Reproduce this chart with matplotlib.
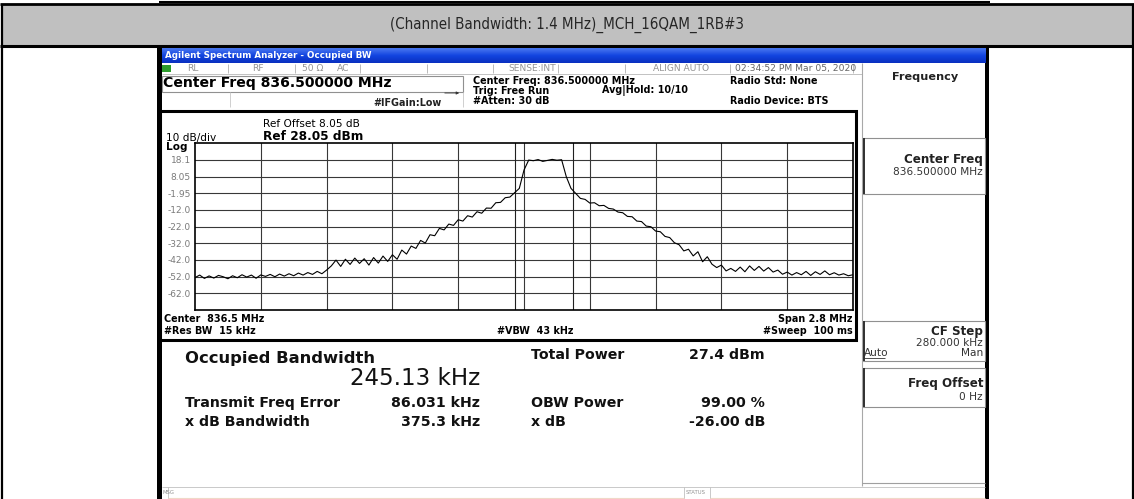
import numpy as np
import matplotlib
matplotlib.use("Agg")
import matplotlib.pyplot as plt
from matplotlib.patches import Rectangle
from matplotlib import font_manager as fm

# ---------------- data ----------------
header_title = "(Channel Bandwidth: 1.4 MHz)_MCH_16QAM_1RB#3"
center_mhz = 836.5
span_mhz = 2.8
ref_dbm = 28.05
db_per_div = 10
ytick_labels = ["18.1", "8.05", "-1.95", "-12.0", "-22.0", "-32.0", "-42.0", "-52.0", "-62.0"]
obw_khz = 245.13
freq_err_khz = 86.031

sweep_freq = np.linspace(835.10, 837.90, 141)
trace_dbm = [
    -52.5, -51.0, -53.0, -51.5, -52.8, -51.2, -52.0, -53.2, -51.4, -52.6,
    -50.8, -52.2, -51.0, -52.9, -50.9, -51.8, -50.6, -52.0, -50.4, -51.6,
    -50.2, -51.4, -49.8, -51.0, -49.5, -50.6, -48.8, -50.2, -48.0, -45.5,
    -42.0, -45.8, -41.5, -44.6, -40.8, -44.0, -41.2, -45.0, -40.5, -43.8,
    -39.6, -42.8, -38.8, -41.5, -36.0, -38.4, -33.6, -35.0, -30.2, -31.8,
    -26.8, -27.4, -23.0, -23.9, -20.4, -21.2, -17.8, -18.6, -15.4, -16.2,
    -13.0, -13.9, -10.8, -10.9, -7.6, -7.4, -4.6, -4.2, -1.6, 1.0,
    12.0, 18.0, 17.6, 18.3, 17.2, 17.8, 18.4, 17.9, 18.2, 8.0,
    1.0, -2.0, -5.0, -5.6, -7.8, -7.6, -9.4, -9.2, -11.0, -11.4,
    -13.2, -13.6, -15.8, -16.0, -18.6, -18.9, -21.6, -22.0, -24.6, -25.0,
    -27.8, -28.5, -31.6, -32.8, -36.5, -35.5, -39.5, -37.0, -43.0, -40.0,
    -44.5, -46.5, -45.0, -48.5, -47.0, -48.8, -46.2, -49.0, -45.5, -48.2,
    -45.8, -48.6, -46.5, -49.2, -48.0, -50.5, -49.2, -51.0, -49.5, -50.8,
    -48.8, -51.2, -49.0, -50.6, -48.5, -50.8, -49.6, -51.0, -50.2, -51.4,
    -50.8,
]

result_rows = [
    ("Transmit Freq Error", "86.031 kHz", "OBW Power", "99.00 %"),
    ("x dB Bandwidth", "375.3 kHz", "x dB", "-26.00 dB"),
]

# ---------------- figure ----------------
W, H = 1134, 499
fig = plt.figure(figsize=(W / 100, H / 100), dpi=100)
bg = fig.add_axes([0, 0, 1, 1])
bg.set_xlim(0, W)
bg.set_ylim(H, 0)
bg.axis("off")
renderer = fig.canvas.get_renderer()

SCR = ["DejaVu Sans"]          # screenshot font (wide, like the stretched capture)
HDR = ["Liberation Sans", "DejaVu Sans"]

# narrow font for the header if one is installed
narrow_fp = None
for f in fm.fontManager.ttflist:
    if ("Narrow" in f.name or str(f.stretch) in ("condensed", "semi-condensed", "75", "87.5")) \
            and f.style == "normal" and f.weight in (400, "normal", "regular"):
        narrow_fp = fm.FontProperties(fname=f.fname)
        break


def hline(y, x0, x1, c="black", lw=1.0):
    bg.plot([x0, x1], [y, y], color=c, lw=lw, solid_capstyle="butt")


def vline(x, y0, y1, c="black", lw=1.0):
    bg.plot([x, x], [y0, y1], color=c, lw=lw, solid_capstyle="butt")


def fit(s, width, bold=False, fam=SCR, fp=None):
    if fp is not None:
        p = fp.copy()
        p.set_size(10)
        t = bg.text(0, 0, s, fontproperties=p)
    else:
        t = bg.text(0, 0, s, fontsize=10, fontweight="bold" if bold else "normal", family=fam)
    w = t.get_window_extent(renderer).width
    t.remove()
    return 10 * width / w


def txt(x, y, s, size, bold=False, ha="left", color="black", fam=SCR, fp=None, **kw):
    if fp is not None:
        p = fp.copy()
        p.set_size(size)
        return bg.text(x, y, s, fontproperties=p, ha=ha, va="center", color=color, **kw)
    return bg.text(x, y, s, fontsize=size, fontweight="bold" if bold else "normal",
                   ha=ha, va="center", color=color, family=fam, **kw)


# ---- table frame ----
hline(1.5, 159, 990, lw=1.5)
bg.add_patch(Rectangle((1.5, 4.5), W - 3, 41, facecolor="#c0c0c0", edgecolor="none"))
hline(4.2, 0, W, lw=2)
hline(45.5, 0, W, lw=2.2)
vline(1.5, 3.5, H, lw=1.6)
vline(W - 1.5, 3.5, H, lw=1.6)
if narrow_fp is not None:
    sz = fit(header_title, 353, fp=narrow_fp)
    txt(567, 24.5, header_title, sz, ha="center", color="#262626", fp=narrow_fp)
else:
    sz = fit(header_title, 353, fam=HDR)
    txt(567, 24.5, header_title, sz, ha="center", color="#262626", fam=HDR)

# ---- screenshot outer ----
bg.add_patch(Rectangle((159, 47), 829, 452, facecolor="white", edgecolor="none"))
bg.add_patch(Rectangle((156.5, 46), 5, 453, facecolor="black", edgecolor="none"))
bg.add_patch(Rectangle((985, 46), 4, 453, facecolor="black", edgecolor="none"))

grad = np.linspace(0, 1, 30).reshape(-1, 1)
cmap = matplotlib.colors.LinearSegmentedColormap.from_list("tb", ["#4a78f0", "#1244e0", "#0a30c0"])
bg.imshow(grad, extent=[161.5, 985, 63, 48], cmap=cmap, aspect="auto", zorder=1)
bg.set_xlim(0, W)
bg.set_ylim(H, 0)
s_title = "Agilent Spectrum Analyzer - Occupied BW"
txt(165, 55.5, s_title, fit(s_title, 206, bold=True), bold=True, color="white")

# ---- status row ----
bg.add_patch(Rectangle((162, 64.5), 9, 7, facecolor="#2c9c2c", edgecolor="none"))
for xd in [228, 295, 360, 427, 493, 558, 625, 730, 853]:
    vline(xd, 64, 73, c="#b0b0b0", lw=0.6)
hline(73.5, 161.5, 862, c="#b8b8b8", lw=0.6)
stat_c = "#949494"
ssz = fit("SENSE:INT", 48)
txt(187, 68.5, "RL", ssz, color=stat_c)
txt(252, 68.5, "RF", ssz, color=stat_c)
txt(302, 68.5, "50 \u03a9", ssz, color=stat_c)
txt(337, 68.5, "AC", ssz, color=stat_c)
txt(532, 68.5, "SENSE:INT", ssz, ha="center", color=stat_c)
txt(681, 68.5, "ALIGN AUTO", ssz, ha="center", color=stat_c)
txt(735, 68.5, "02:34:52 PM Mar 05, 2020", ssz, color="#666666")

# ---- measurement setup info ----
bg.add_patch(Rectangle((161.5, 75.5), 301.5, 16, facecolor="none", edgecolor="#909090", lw=0.8))
vline(230, 91.5, 107, c="#c8c8c8", lw=0.6)
vline(463, 91.5, 107, c="#c8c8c8", lw=0.6)
s_cf = "Center Freq 836.500000 MHz"
txt(163, 83, s_cf, fit(s_cf, 230, bold=True), bold=True)
isz = fit("Center Freq: 836.500000 MHz", 162, bold=True)
txt(373, 102.5, "#IFGain:Low", isz, bold=True, color="#222222")
bg.annotate("", xy=(462, 93), xytext=(442, 93),
            arrowprops=dict(arrowstyle="-|>", lw=0.6, color="#333333", mutation_scale=4))
txt(473, 80.5, "Center Freq: 836.500000 MHz", isz, bold=True)
txt(473, 90.5, "Trig: Free Run", isz, bold=True)
txt(473, 100.5, "#Atten: 30 dB", isz, bold=True)
txt(602, 90.5, "Avg|Hold: 10/10", isz, bold=True)
txt(730, 80.5, "Radio Std: None", isz, bold=True)
txt(730, 101, "Radio Device: BTS", isz, bold=True)

# ---- plot panel ----
bg.add_patch(Rectangle((160, 110.5), 695.5, 229.5, facecolor="none", edgecolor="black", lw=2.2))
s_ro = "Ref Offset 8.05 dB"
txt(263, 124, s_ro, fit(s_ro, 96))
s_rl = "Ref 28.05 dBm"
txt(263, 137, s_rl, fit(s_rl, 100, bold=True), bold=True)
dsz = fit("10 dB/div", 50)
txt(166, 137.5, "10 dB/div", dsz)
txt(166, 147, "Log", dsz, bold=True)

gx0, gy0, gx1, gy1 = 195, 143.3, 853, 310
ax = fig.add_axes([gx0 / W, 1 - gy1 / H, (gx1 - gx0) / W, (gy1 - gy0) / H])
fstart = center_mhz - span_mhz / 2
fstop = center_mhz + span_mhz / 2
ybot = ref_dbm - 10 * db_per_div
ax.set_xlim(fstart, fstop)
ax.set_ylim(ybot, ref_dbm)
ax.set_facecolor("white")
for k in range(1, 10):
    ax.axvline(fstart + k * span_mhz / 10, color="#383838", lw=0.8)
    ax.axhline(ref_dbm - k * db_per_div, color="#383838", lw=0.8)
obw_c = center_mhz + freq_err_khz / 1000
for xo in (obw_c - obw_khz / 2000, obw_c + obw_khz / 2000):
    ax.axvline(xo, color="#202020", lw=0.8)
ax.plot(sweep_freq, trace_dbm, color="black", lw=0.8)
ax.set_xticks([])
ax.set_yticks([ref_dbm - k * db_per_div for k in range(1, 10)])
ax.set_yticklabels(ytick_labels, fontsize=fit("-12.0", 23), color="#7a7a7a", family=SCR)
ax.tick_params(axis="y", length=0, pad=3)
for sp in ax.spines.values():
    sp.set_color("black")
    sp.set_linewidth(1.2)

bsz = fit("Span 2.8 MHz", 74, bold=True)
txt(164, 318.5, "Center  836.5 MHz", bsz, bold=True)
txt(164, 331, "#Res BW  15 kHz", bsz, bold=True)
txt(497, 331, "#VBW  43 kHz", bsz, bold=True)
txt(853, 318.5, "Span 2.8 MHz", bsz, bold=True, ha="right")
txt(853, 331, "#Sweep  100 ms", bsz, bold=True, ha="right")

# ---- results ----
s_ob = "Occupied Bandwidth"
txt(185, 358.5, s_ob, fit(s_ob, 190, bold=True), bold=True, color="#111111")
s_bw = f"{obw_khz:.2f} kHz"
txt(480, 378.5, s_bw, fit(s_bw, 130), ha="right", color="#111111")
rsz = fit("Transmit Freq Error", 155, bold=True)
txt(531, 355, "Total Power", rsz, bold=True, color="#111111")
txt(765, 355, "27.4 dBm", rsz, bold=True, ha="right", color="#111111")
row_y = [403, 422]
for (l1, v1, l2, v2), yy in zip(result_rows, row_y):
    txt(185, yy, l1, rsz, bold=True, color="#111111")
    txt(480, yy, v1, rsz, bold=True, ha="right", color="#111111")
    txt(531, yy, l2, rsz, bold=True, color="#111111")
    txt(765, yy, v2, rsz, bold=True, ha="right", color="#111111")

# ---- message bar ----
hline(487, 161.5, 985, c="#c0c0c0", lw=0.6)
vline(168, 487, 499, c="#c0c0c0", lw=0.6)
vline(684, 487, 499, c="#c0c0c0", lw=0.6)
vline(710, 487, 499, c="#c0c0c0", lw=0.6)
hline(497.5, 168, 684, c="#f0d8c8", lw=0.8)
hline(497.5, 710, 985, c="#f0d8c8", lw=0.8)
txt(162.5, 493, "MSG", 3.8, color="#909090")
txt(686, 493, "STATUS", 3.8, color="#909090")

# ---- softkey panel ----
vline(862, 63, 486, c="#a8a8a8", lw=0.8)
txt(925, 77, "Frequency", fit("Frequency", 66, bold=True), bold=True, ha="center", color="#222222")
keys = [(138, 194), (321, 361), (368, 407)]
for y0, y1 in keys:
    bg.add_patch(Rectangle((862.5, y0), 122, y1 - y0, facecolor="none", edgecolor="#909090", lw=0.8))
    vline(863.5, y0, y1, c="#303030", lw=1.4)
hline(483, 862, 985, c="#a0a0a0", lw=0.8)
ksz = fit("Center Freq", 79, bold=True)
vsz = fit("280.000 kHz", 66)
txt(983, 159, "Center Freq", ksz, bold=True, ha="right", color="#222222")
txt(983, 172, "836.500000 MHz", vsz, ha="right", color="#333333")
txt(983, 331, "CF Step", ksz, bold=True, ha="right", color="#222222")
txt(983, 342.5, "280.000 kHz", vsz, ha="right", color="#333333")
txt(864, 353, "Auto", vsz, color="#333333")
hline(358, 864, 885, c="#333333", lw=0.6)
txt(983, 353, "Man", vsz, ha="right", color="#333333")
txt(983, 383, "Freq Offset", ksz, bold=True, ha="right", color="#222222")
txt(983, 397, "0 Hz", vsz, ha="right", color="#333333")

fig.savefig("out.png", dpi=100)
